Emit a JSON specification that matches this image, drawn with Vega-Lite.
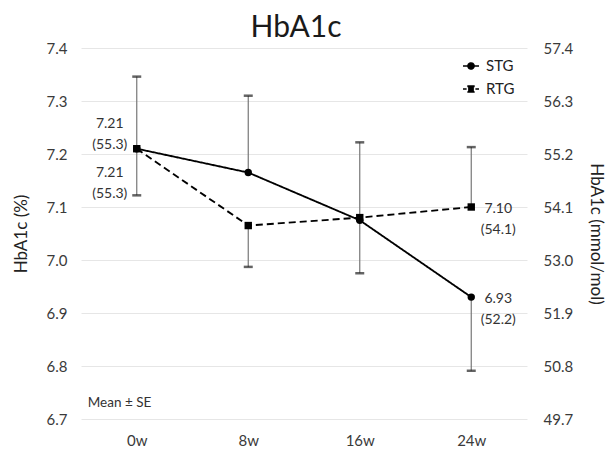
{
  "$schema": "https://vega.github.io/schema/vega-lite/v6.json",
  "autosize": "none",
  "width": 446,
  "height": 371,
  "padding": {"left": 81, "top": 48, "right": 82, "bottom": 38},
  "background": "white",
  "title": {"text": "HbA1c", "fontSize": 30, "font": "Lato", "fontWeight": "normal", "color": "#1a1a1a", "dx": -8, "offset": -2},
  "config": {
    "font": "Lato",
    "view": {"stroke": null},
    "axis": {"domain": false, "ticks": false, "labelFontSize": 15, "labelColor": "#3a3a3a", "labelFont": "Lato", "titleFont": "Lato", "titleFontSize": 17, "titleFontWeight": "normal", "titleColor": "#222222", "gridColor": "#e6e6e6", "gridWidth": 1}
  },
  "datasets": {
    "points": [
      {"series": "STG", "week": "0w", "mean": 7.21, "bound": 7.346},
      {"series": "STG", "week": "8w", "mean": 7.165, "bound": 7.31},
      {"series": "STG", "week": "16w", "mean": 7.075, "bound": 7.222},
      {"series": "STG", "week": "24w", "mean": 6.93, "bound": 6.791},
      {"series": "RTG", "week": "0w", "mean": 7.21, "bound": 7.122},
      {"series": "RTG", "week": "8w", "mean": 7.065, "bound": 6.987},
      {"series": "RTG", "week": "16w", "mean": 7.08, "bound": 6.975},
      {"series": "RTG", "week": "24w", "mean": 7.10, "bound": 7.213}
    ],
    "labels": [
      {"series": "STG", "week": "0w", "mean": 7.21, "mmol": 55.3, "label": "7.21\n(55.3)"},
      {"series": "RTG", "week": "0w", "mean": 7.21, "mmol": 55.3, "label": "7.21\n(55.3)"},
      {"series": "RTG", "week": "24w", "mean": 7.10, "mmol": 54.1, "label": "7.10\n(54.1)"},
      {"series": "STG", "week": "24w", "mean": 6.93, "mmol": 52.2, "label": "6.93\n(52.2)"}
    ]
  },
  "layer": [
    {
      "encoding": {
        "x": {"field": "week", "type": "nominal", "scale": {"type": "point", "padding": 0.5, "domain": ["0w", "8w", "16w", "24w"]}, "axis": {"title": null, "grid": false, "labelPadding": 14, "labelAngle": 0}}
      },
      "layer": [
        {
          "data": {"name": "points"},
          "mark": {"type": "line", "color": "black", "strokeWidth": 1.85},
          "encoding": {
            "y": {"field": "mean", "type": "quantitative", "title": "HbA1c (%)", "scale": {"domain": [6.7, 7.4], "nice": false, "zero": false}, "axis": {"orient": "left", "values": [6.7, 6.8, 6.9, 7.0, 7.1, 7.2, 7.3, 7.4], "format": ".1f", "grid": true, "labelPadding": 14, "titlePadding": 16}},
            "strokeDash": {"field": "series", "type": "nominal", "scale": {"domain": ["STG", "RTG"], "range": [[1, 0], [7, 4]]},
              "legend": {"title": null, "orient": "none", "legendX": 381, "legendY": 9, "labelFontSize": 15, "labelColor": "#222222", "labelFont": "Lato", "symbolSize": 256, "rowPadding": 6, "labelOffset": 6, "symbolStrokeWidth": 1.6, "symbolStrokeColor": "black", "symbolFillColor": "black",
                "encode": {"symbols": {"update": {
                  "shape": {"signal": "datum.value == 'STG' ? 'M-1,0H1M-0.38,0A0.38,0.38,0,1,1,0.38,0A0.38,0.38,0,1,1,-0.38,0Z' : 'M-1,0H-0.55M0.55,0H1M-0.36,-0.36H0.36V0.36H-0.36Z'"},
                  "fill": {"value": "black"}, "stroke": {"value": "black"}, "strokeWidth": {"value": 1.6}, "strokeDash": {"value": []}, "opacity": {"value": 1}
                }}}}}
          }
        },
        {
          "data": {"name": "points"},
          "mark": {"type": "rule", "color": "#777777", "strokeWidth": 1.2},
          "encoding": {
            "y": {"field": "mean", "type": "quantitative", "title": "HbA1c (%)", "scale": {"domain": [6.7, 7.4], "nice": false, "zero": false}},
            "y2": {"field": "bound"}
          }
        },
        {
          "data": {"name": "points"},
          "mark": {"type": "tick", "color": "#222222", "thickness": 2.5, "size": 9, "orient": "horizontal"},
          "encoding": {
            "y": {"field": "bound", "type": "quantitative", "title": "HbA1c (%)", "scale": {"domain": [6.7, 7.4], "nice": false, "zero": false}}
          }
        },
        {
          "data": {"name": "points"},
          "transform": [{"filter": "datum.series == 'STG'"}],
          "mark": {"type": "point", "shape": "circle", "filled": true, "color": "black", "size": 55, "opacity": 1},
          "encoding": {
            "y": {"field": "mean", "type": "quantitative", "title": "HbA1c (%)", "scale": {"domain": [6.7, 7.4], "nice": false, "zero": false}}
          }
        },
        {
          "data": {"name": "points"},
          "transform": [{"filter": "datum.series == 'RTG'"}],
          "mark": {"type": "point", "shape": "square", "filled": true, "color": "black", "size": 55, "opacity": 1},
          "encoding": {
            "y": {"field": "mean", "type": "quantitative", "title": "HbA1c (%)", "scale": {"domain": [6.7, 7.4], "nice": false, "zero": false}}
          }
        },
        {
          "data": {"name": "labels"},
          "transform": [{"filter": "datum.week == '0w' && datum.series == 'STG'"}],
          "mark": {"type": "text", "lineBreak": "\n", "fontSize": 14, "color": "#333333", "align": "center", "baseline": "middle", "dx": -27, "dy": -25, "lineHeight": 21},
          "encoding": {
            "y": {"field": "mean", "type": "quantitative", "title": "HbA1c (%)", "scale": {"domain": [6.7, 7.4], "nice": false, "zero": false}},
            "text": {"field": "label"}
          }
        },
        {
          "data": {"name": "labels"},
          "transform": [{"filter": "datum.week == '0w' && datum.series == 'RTG'"}],
          "mark": {"type": "text", "lineBreak": "\n", "fontSize": 14, "color": "#333333", "align": "center", "baseline": "middle", "dx": -27, "dy": 24, "lineHeight": 21},
          "encoding": {
            "y": {"field": "mean", "type": "quantitative", "title": "HbA1c (%)", "scale": {"domain": [6.7, 7.4], "nice": false, "zero": false}},
            "text": {"field": "label"}
          }
        },
        {
          "data": {"name": "labels"},
          "transform": [{"filter": "datum.week == '24w'"}],
          "mark": {"type": "text", "lineBreak": "\n", "fontSize": 14, "color": "#333333", "align": "center", "baseline": "middle", "dx": 27, "dy": 2, "lineHeight": 21},
          "encoding": {
            "y": {"field": "mean", "type": "quantitative", "title": "HbA1c (%)", "scale": {"domain": [6.7, 7.4], "nice": false, "zero": false}},
            "text": {"field": "label"}
          }
        },
        {
          "data": {"values": [{"note": "Mean ± SE"}]},
          "mark": {"type": "text", "fontSize": 13.5, "color": "#333333", "align": "left", "baseline": "middle", "dx": -49},
          "encoding": {
            "x": {"datum": "0w"},
            "y": {"datum": 6.73, "type": "quantitative", "title": "HbA1c (%)", "scale": {"domain": [6.7, 7.4], "nice": false, "zero": false}},
            "text": {"field": "note"}
          }
        }
      ]
    },
    {
      "data": {"name": "labels"},
      "mark": {"type": "point", "opacity": 0},
      "encoding": {
        "x": {"field": "week", "type": "nominal", "scale": {"type": "point", "padding": 0.5, "domain": ["0w", "8w", "16w", "24w"]}},
        "y": {"field": "mmol", "type": "quantitative", "title": "HbA1c (mmol/mol)", "scale": {"domain": [49.7, 57.4], "nice": false, "zero": false},
          "axis": {"orient": "right", "values": [49.7, 50.8, 51.9, 53.0, 54.1, 55.2, 56.3, 57.4], "format": ".1f", "grid": false, "labelPadding": 16, "titlePadding": 14}}
      }
    }
  ],
  "resolve": {"scale": {"y": "independent"}}
}
